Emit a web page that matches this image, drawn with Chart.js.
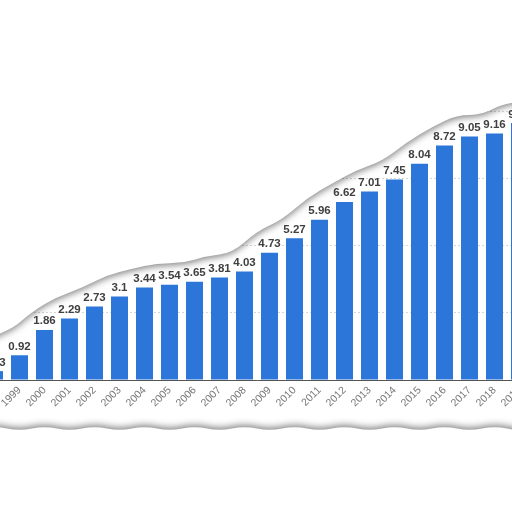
<!DOCTYPE html>
<html lang="en">
<head>
  <meta charset="UTF-8" />
  <title>Bar chart 1998–2019</title>
  <script src="https://cdn.jsdelivr.net/npm/chart.js"></script>
  <style>
    html, body {
      margin: 0;
      padding: 0;
      width: 512px;
      height: 512px;
      overflow: hidden;
      background: #fff;
    }

    #wrap {
      position: absolute;
      left: -18.5px;
      top: 0;
      width: 550px;
      height: 512px;
    }
  </style>
</head>
<body>

  <div id="wrap"><canvas id="barChart"></canvas></div>

  <script>
    const years = [
      '1998', '1999', '2000', '2001', '2002', '2003', '2004', '2005',
      '2006', '2007', '2008', '2009', '2010', '2011', '2012', '2013',
      '2014', '2015', '2016', '2017', '2018', '2019'
    ];

    const values = [
      0.33, 0.92, 1.86, 2.29, 2.73, 3.1, 3.44, 3.54,
      3.65, 3.81, 4.03, 4.73, 5.27, 5.96, 6.62, 7.01,
      7.45, 8.04, 8.72, 9.05, 9.16, 9.55
    ];

    const yTicks = [0, 2.5, 5, 7.5, 10];

    // value labels above each bar
    const valueLabels = {
      id: 'valueLabels',
      afterDatasetsDraw(chart) {
        const ctx = chart.ctx;
        const meta = chart.getDatasetMeta(0);
        ctx.save();
        ctx.font = 'bold 11.5px "Liberation Sans", Arial, sans-serif';
        ctx.fillStyle = '#404040';
        ctx.textAlign = 'center';
        ctx.textBaseline = 'bottom';
        meta.data.forEach((bar, i) => {
          ctx.fillText(String(values[i]), bar.x, bar.y - 3);
        });
        ctx.restore();
      }
    };

    // smooth path through a list of points (quadratic midpoints)
    function smoothPath(ctx, pts) {
      ctx.lineTo(pts[0].x, pts[0].y);
      for (let i = 1; i < pts.length - 1; i++) {
        const mx = (pts[i].x + pts[i + 1].x) / 2;
        const my = (pts[i].y + pts[i + 1].y) / 2;
        ctx.quadraticCurveTo(pts[i].x, pts[i].y, mx, my);
      }
      const last = pts[pts.length - 1];
      ctx.lineTo(last.x, last.y);
    }

    // torn paper look: white cut-outs with a soft shadow on the edge
    const tornEdges = {
      id: 'tornEdges',
      afterDraw(chart) {
        const ctx = chart.ctx;
        const bars = chart.getDatasetMeta(0).data;
        const w = chart.width, h = chart.height;
        const base = chart.scales.y.getPixelForValue(0);

        // edge passes above the higher of two neighbouring labels
        const upper = [{ x: -30, y: bars[0].y - 20 }];
        for (let i = 0; i < bars.length - 1; i++) {
          const bx = (bars[i].x + bars[i + 1].x) / 2;
          const by = Math.min(bars[i].y, bars[i + 1].y) - 20 + (i % 2 ? 1.5 : -1.5);
          upper.push({ x: bx, y: by });
        }
        upper.push({ x: w + 30, y: bars[bars.length - 1].y - 24 });

        ctx.save();
        ctx.fillStyle = '#fff';
        ctx.shadowColor = 'rgba(0,0,0,0.5)';
        ctx.shadowBlur = 7;
        ctx.shadowOffsetY = 2;
        ctx.beginPath();
        ctx.moveTo(-30, -60);
        smoothPath(ctx, upper);
        ctx.lineTo(w + 30, -60);
        ctx.closePath();
        ctx.fill();

        const lower = [{ x: -30, y: base + 44 }];
        bars.forEach((bar, i) => {
          lower.push({ x: bar.x, y: base + 48 + (i % 2 ? 3 : -2) });
        });
        lower.push({ x: w + 30, y: base + 52 });

        ctx.shadowOffsetY = -2;
        ctx.beginPath();
        ctx.moveTo(-30, h + 60);
        smoothPath(ctx, lower);
        ctx.lineTo(w + 30, h + 60);
        ctx.closePath();
        ctx.fill();
        ctx.restore();
      }
    };

    const ctx = document.getElementById('barChart').getContext('2d');
    const chart = new Chart(ctx, {
      type: 'bar',
      data: {
        labels: years,
        datasets: [{
          data: values,
          backgroundColor: '#2b76d8',
          borderWidth: 0,
          categoryPercentage: 1,
          barPercentage: 0.68
        }]
      },
      options: {
        responsive: true,
        maintainAspectRatio: false,
        animation: false,
        layout: { padding: { top: 111, left: 0, right: 0, bottom: 0 } },
        plugins: {
          legend: { display: false },
          tooltip: { enabled: false }
        },
        scales: {
          x: {
            grid: { display: false, drawTicks: false },
            border: { display: true, color: '#555', width: 1 },
            ticks: {
              color: '#777',
              font: { family: '"Liberation Sans", Arial, sans-serif', size: 10.5 },
              minRotation: 45,
              maxRotation: 45,
              autoSkip: false,
              padding: 4
            },
            afterFit(scale) {
              scale.height = 132;
              scale.paddingLeft = 0;
              scale.paddingRight = 0;
            }
          },
          y: {
            min: 0,
            max: 10,
            afterBuildTicks(scale) { scale.ticks = yTicks.map(v => ({ value: v })); },
            grid: { color: '#d6d6d6', drawTicks: false, lineWidth: 1 },
            border: { display: false, dash: [2, 2] },
            ticks: { display: false },
            afterFit(scale) { scale.width = 0; }
          }
        }
      },
      plugins: [valueLabels, tornEdges]
    });
  </script>

</body>
</html>
